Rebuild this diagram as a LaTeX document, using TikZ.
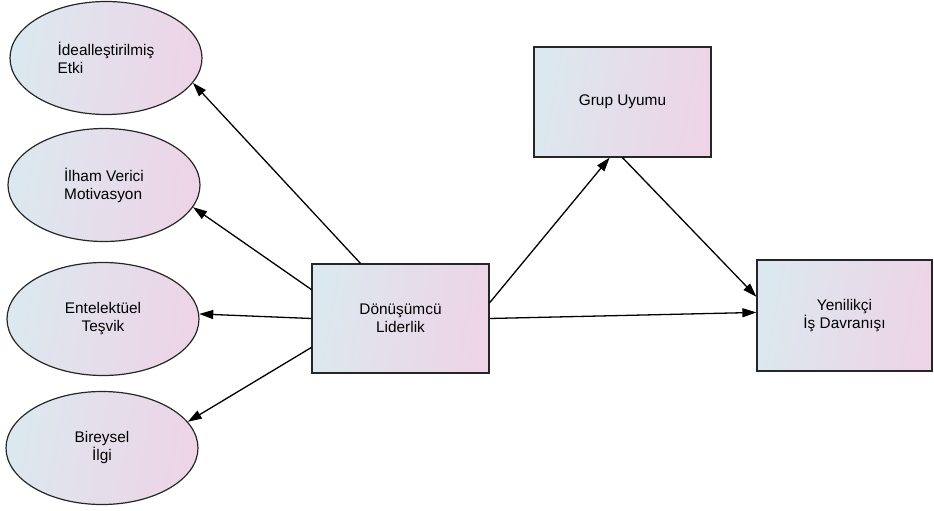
\documentclass[tikz,border=0pt]{standalone}
\usepackage{fontspec}
\setmainfont{Liberation Sans}
\usetikzlibrary{shapes.geometric,arrows.meta}
\definecolor{lc}{HTML}{DCE8EF}
\definecolor{rc}{HTML}{EDD4E6}
\begin{document}
\begin{tikzpicture}[x=1pt,y=-1pt,
  every node/.style={font=\fontsize{15.4}{18}\selectfont},
  fillgrad/.style={draw=black!85,line width=1.2pt,left color=lc,right color=rc,shading angle=80},
  oval/.style={fillgrad,ellipse,minimum width=192pt,minimum height=113pt,inner sep=0pt},
  boxnode/.style={fillgrad,rectangle,inner sep=0pt,align=center},
  conn/.style={line width=1.3pt,-{Triangle[length=14pt,width=9pt]}}]
\useasboundingbox (0,0) rectangle (934,511);
\node[oval,align=left] (e1) at (106,58) {İdealleştirilmiş\\Etki};
\node[oval,align=left] (e2) at (104,185) {İlham Verici\\Motivasyon};
\node[oval,align=center] (e3) at (103,319) {Entelektüel\\Teşvik};
\node[oval,align=center] (e4) at (102,448) {Bireysel\\İlgi};
\node[boxnode,minimum width=177pt,minimum height=109pt] (d) at (400.5,318.5) {Dönüşümcü\\Liderlik};
\node[boxnode,minimum width=177pt,minimum height=110pt] (g) at (622.5,102) {Grup Uyumu};
\node[boxnode,minimum width=175pt,minimum height=111pt] (yb) at (844.5,315.5) {Yenilikçi\\İş Davranışı};
\draw[conn] (d.126) -- (e1.-16);
\draw[conn] (d.162) -- (e2.-14);
\draw[conn] (d.west) -- (e3.3);
\draw[conn] (d.198) -- (e4.17);
\draw[conn] (d.10.6) -- (g.-103);
\draw[conn] (g.south) -- (yb.168);
\draw[conn] (d.east) -- (yb.178.4);
\end{tikzpicture}
\end{document}
